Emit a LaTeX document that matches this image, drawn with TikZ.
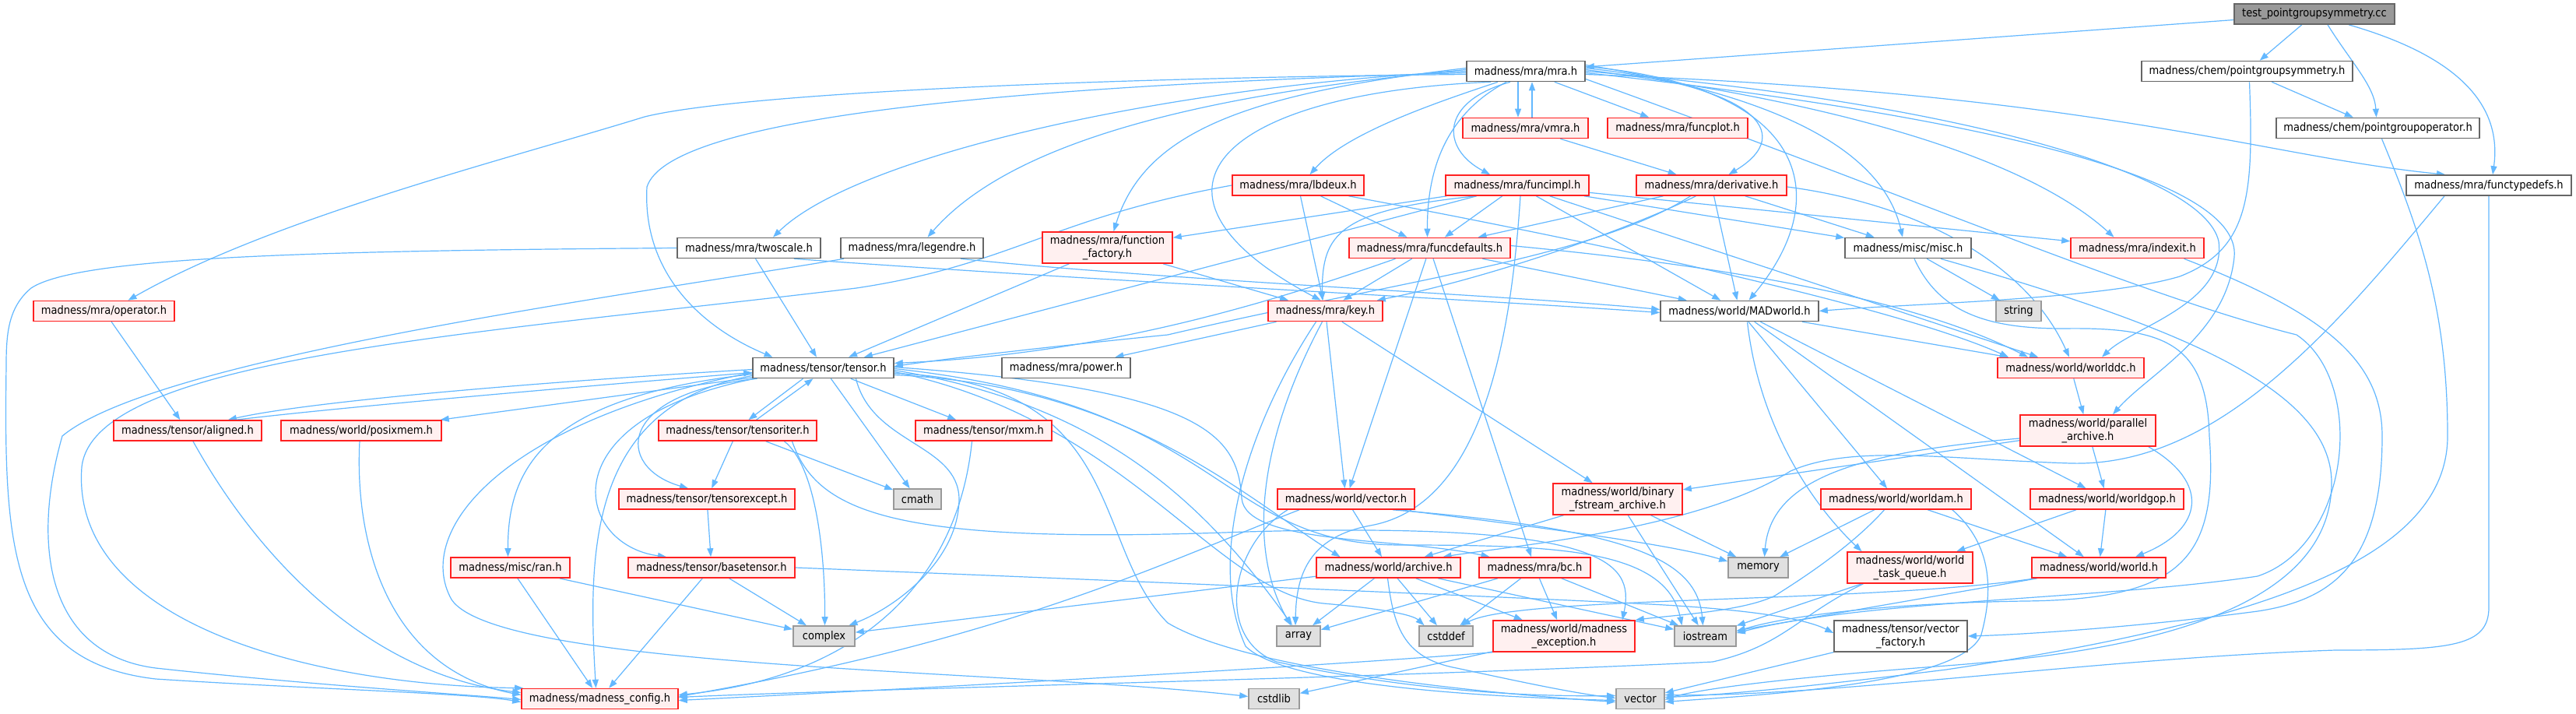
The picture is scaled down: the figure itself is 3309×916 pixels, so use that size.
\documentclass[tikz,border=0pt]{standalone}
\usepackage{fontspec}
\setmainfont{DejaVu Sans}[FakeStretch=0.9]
\usetikzlibrary{arrows.meta}
\definecolor{edgec}{HTML}{63B8FF}
\definecolor{redfill}{HTML}{FFF0F0}
\definecolor{redline}{HTML}{FF2020}
\definecolor{greyline}{HTML}{666666}
\definecolor{sysfill}{HTML}{E0E0E0}
\definecolor{sysline}{HTML}{999999}
\definecolor{rootfill}{HTML}{999999}
\pgfdeclarelayer{bg}
\pgfsetlayers{bg,main}
\tikzset{
 nd/.style={rectangle, inner sep=0pt, line width=1.6pt, font=\fontsize{14.5}{17}\selectfont, align=center, minimum height=26pt},
 rn/.style={nd, draw=redline, fill=redfill},
 wn/.style={nd, draw=greyline, fill=white},
 sn/.style={nd, draw=sysline, fill=sysfill},
 tn/.style={nd, draw=greyline, fill=rootfill},
 tall/.style={minimum height=40pt},
 edg/.style={draw=edgec, line width=1.2pt, -{Triangle[length=11pt,width=8pt]}},
}
\begin{document}
\begin{tikzpicture}[x=1pt,y=-1pt]
\useasboundingbox (0,0) rectangle (3309,916);
% nodes
\node[tn, minimum width=206] (root) at (2973,18) {test\_pointgroupsymmetry.cc};
\node[wn, minimum width=152] (mra) at (1960,91.5) {madness/mra/mra.h};
\node[wn, minimum width=271] (pgs) at (2886.5,91.5) {madness/chem/pointgroupsymmetry.h};
\node[rn, minimum width=161] (vmra) at (1959.5,164.5) {madness/mra/vmra.h};
\node[rn, minimum width=180] (funcplot) at (2155,164.5) {madness/mra/funcplot.h};
\node[wn, minimum width=261] (pgo) at (3054.5,164.5) {madness/chem/pointgroupoperator.h};
\node[rn, minimum width=169] (lbdeux) at (1667.5,238) {madness/mra/lbdeux.h};
\node[rn, minimum width=184] (funcimpl) at (1949,238) {madness/mra/funcimpl.h};
\node[rn, minimum width=193] (deriv) at (2198.5,238) {madness/mra/derivative.h};
\node[wn, minimum width=212] (ftd) at (3197,238) {madness/mra/functypedefs.h};
\node[wn, minimum width=184] (twoscale) at (962,318.5) {madness/mra/twoscale.h};
\node[wn, minimum width=183] (legendre) at (1171.5,318.5) {madness/mra/legendre.h};
\node[rn, minimum width=167, tall] (ffac) at (1422.5,318) {madness/mra/function\\\_factory.h};
\node[rn, minimum width=207] (fdef) at (1836.5,318.5) {madness/mra/funcdefaults.h};
\node[wn, minimum width=162] (misc) at (2451,318.5) {madness/misc/misc.h};
\node[rn, minimum width=171] (indexit) at (2745.5,318.5) {madness/mra/indexit.h};
\node[rn, minimum width=181] (operator) at (133.5,399.5) {madness/mra/operator.h};
\node[rn, minimum width=147] (key) at (1702.5,399.5) {madness/mra/key.h};
\node[wn, minimum width=203] (madworld) at (2234.5,399.5) {madness/world/MADworld.h};
\node[sn, minimum width=58] (string) at (2593,399.5) {string};
\node[wn, minimum width=181] (tensor) at (1057.5,472.5) {madness/tensor/tensor.h};
\node[wn, minimum width=165] (power) at (1369.5,472.5) {madness/mra/power.h};
\node[rn, minimum width=188] (worlddc) at (2660,472.5) {madness/world/worlddc.h};
\node[rn, minimum width=190] (aligned) at (241,553) {madness/tensor/aligned.h};
\node[rn, minimum width=206] (posixmem) at (464,553) {madness/world/posixmem.h};
\node[rn, minimum width=203] (tensoriter) at (947.5,553) {madness/tensor/tensoriter.h};
\node[rn, minimum width=175] (mxm) at (1263.5,553) {madness/tensor/mxm.h};
\node[rn, minimum width=174, tall] (parar) at (2682,553) {madness/world/parallel\\\_archive.h};
\node[rn, minimum width=226] (texcept) at (908,641) {madness/tensor/tensorexcept.h};
\node[sn, minimum width=61] (cmath) at (1178.5,641) {cmath};
\node[rn, minimum width=176] (wvector) at (1729,641) {madness/world/vector.h};
\node[rn, minimum width=166, tall] (binfs) at (2078,641) {madness/world/binary\\\_fstream\_archive.h};
\node[rn, minimum width=193] (worldam) at (2435.5,641) {madness/world/worldam.h};
\node[rn, minimum width=197] (worldgop) at (2706.5,641) {madness/world/worldgop.h};
\node[rn, minimum width=153] (ran) at (655.5,729) {madness/misc/ran.h};
\node[rn, minimum width=214] (basetensor) at (914,729) {madness/tensor/basetensor.h};
\node[rn, minimum width=185] (archive) at (1783.5,729) {madness/world/archive.h};
\node[rn, minimum width=143] (bc) at (1971.5,729) {madness/mra/bc.h};
\node[sn, minimum width=77] (memory) at (2258.5,729) {memory};
\node[rn, minimum width=161, tall] (taskq) at (2453.5,729) {madness/world/world\\\_task\_queue.h};
\node[rn, minimum width=172] (world) at (2696,729) {madness/world/world.h};
\node[sn, minimum width=79] (complex) at (1058.5,817) {complex};
\node[sn, minimum width=56] (array) at (1668,817) {array};
\node[sn, minimum width=69] (cstddef) at (1857.5,817) {cstddef};
\node[rn, minimum width=182, tall] (mexc) at (2009,817) {madness/world/madness\\\_exception.h};
\node[sn, minimum width=79] (iostream) at (2190.5,817) {iostream};
\node[wn, minimum width=171, tall] (vfactory) at (2441.5,817) {madness/tensor/vector\\\_factory.h};
\node[rn, minimum width=201] (config) at (770.5,897.5) {madness/madness\_config.h};
\node[sn, minimum width=65] (cstdlib) at (1636.5,897.5) {cstdlib};
\node[sn, minimum width=62] (vector) at (2107,897.5) {vector};

\begin{pgfonlayer}{bg}
\fill[white] (0,0) rectangle (3309,916);
% root
\draw[edg] (root) -- (mra);
\draw[edg] (root) -- (pgs);
\draw[edg] ([xshift=17]root.south) .. controls (3020,80) and (3050,110) .. ([xshift=-2]pgo.north);
\draw[edg] ([xshift=44]root.south) .. controls (3150,70) and (3215,130) .. ([xshift=5]ftd.north);
% pgs
\draw[edg] (pgs) -- (pgo);
\draw[edg] ([xshift=3]pgs.south) .. controls (2895,250) and (2890,320) .. (2800,355) .. controls (2700,385) and (2450,390) .. (madworld.east);
% pgo
\draw[edg] ([xshift=5]pgo.south) .. controls (3110,300) and (3144,400) .. (3144,560) .. controls (3144,720) and (2900,800) .. (2500,860) .. controls (2300,885) and (2200,893) .. ([yshift=2]vector.east);
% functypedefs
\draw[edg] (ftd.south) -- (3197,780) .. controls (3197,830) and (3150,835) .. (3000,835) .. controls (2700,845) and (2350,895) .. ([yshift=5]vector.east);
\draw[edg] ([xshift=-57]ftd.south) .. controls (3000,420) and (2850,600) .. (2660,595) .. controls (2500,590) and (2380,570) .. (2300,605) .. controls (2180,680) and (1950,700) .. ([xshift=70]archive.north);
% mra
\draw[edg] ([yshift=-4]mra.west) .. controls (1400,100) and (950,120) .. (828,150) .. controls (650,205) and (350,280) .. ([xshift=31]operator.north);
\draw[edg] ([yshift=-2]mra.west) .. controls (1300,110) and (860,150) .. (831,240) .. controls (825,350) and (900,420) .. ([xshift=-65]tensor.north);
\draw[edg] (mra.west) .. controls (1500,110) and (1100,200) .. ([xshift=31]twoscale.north);
\draw[edg] ([yshift=2]mra.west) .. controls (1550,120) and (1300,180) .. ([xshift=20]legendre.north);
\draw[edg] ([yshift=4]mra.west) .. controls (1600,120) and (1470,170) .. ([xshift=8]ffac.north);
\draw[edg] ([xshift=-45]mra.south) .. controls (1560,120) and (1440,250) .. ([xshift=-6]key.north);
\draw[edg] ([xshift=-36]mra.south) .. controls (1850,130) and (1730,170) .. ([xshift=15]lbdeux.north);
\draw[edg] ([xshift=-25]mra.south) .. controls (1870,140) and (1833,200) .. ([xshift=-3]fdef.north);
\draw[edg] ([xshift=-20]mra.south) .. controls (1850,130) and (1850,190) .. ([xshift=-35]funcimpl.north);
\draw[edg] ([xshift=-10]mra.south) -- ([xshift=-9.5]vmra.north);
\draw[edg] ([xshift=8.5]vmra.north) -- ([xshift=8]mra.south);
\draw[edg] (mra) -- (funcplot);
\draw[edg] ([yshift=4]mra.east) .. controls (2250,110) and (2310,170) .. ([xshift=22]deriv.north);
\draw[edg] ([yshift=6]mra.east) .. controls (2320,110) and (2360,250) .. ([xshift=12]madworld.north);
\draw[edg] ([yshift=8]mra.east) .. controls (2300,125) and (2420,200) .. ([xshift=-7]misc.north);
\draw[edg] ([yshift=2]mra.east) .. controls (2350,130) and (2600,200) .. ([xshift=-30]indexit.north);
\draw[edg] (mra.east) .. controls (2500,130) and (2830,220) .. (2850,310) .. controls (2860,390) and (2740,420) .. ([xshift=40]worlddc.north);
\draw[edg] ([yshift=-2]mra.east) .. controls (2550,150) and (2880,230) .. (2870,330) .. controls (2860,430) and (2760,480) .. ([xshift=32]parar.north);
\draw[edg] ([yshift=-4]mra.east) .. controls (2700,120) and (2900,200) .. ([xshift=-56]ftd.north);
\draw[edg] ([yshift=-10]mra.east) .. controls (2450,250) and (2750,380) .. (2950,430) .. controls (3040,490) and (3020,700) .. (2900,740) .. controls (2700,770) and (2400,770) .. ([yshift=4]iostream.east);
% vmra
\draw[edg] (vmra) -- (deriv);
% lbdeux
\draw[edg] (lbdeux.west) .. controls (1350,280) and (1300,340) .. (1100,370) .. controls (600,430) and (120,460) .. (105,600) .. controls (90,800) and (400,880) .. ([xshift=3]config.north west);
\draw[edg] (lbdeux) -- (key);
\draw[edg] (lbdeux) -- (fdef);
\draw[edg] ([xshift=65]lbdeux.south) .. controls (2100,320) and (2450,400) .. ([xshift=-80]worlddc.north);
% twoscale
\draw[edg] (twoscale.west) .. controls (400,322) and (100,330) .. (40,370) .. controls (10,395) and (8,430) .. (8,470) .. controls (5,700) and (10,850) .. (200,872) .. controls (400,885) and (600,890) .. ([yshift=-4]config.west);
\draw[edg] (twoscale) -- (tensor);
\draw[edg] ([xshift=-35]twoscale.south east) .. controls (1400,360) and (1900,385) .. ([yshift=-2]madworld.west);
% legendre
\draw[edg] ([xshift=5]legendre.south west) .. controls (800,380) and (200,460) .. (80,560) .. controls (40,700) and (60,840) .. (200,858) .. controls (400,880) and (600,892) .. ([yshift=-1]config.west);
\draw[edg] ([xshift=-30]legendre.south east) .. controls (1500,360) and (1950,380) .. ([yshift=2]madworld.west);
% function_factory
\draw[edg] (ffac) -- (key);
\draw[edg] (ffac) -- (tensor);
% funcimpl
\draw[edg] (funcimpl) -- (ffac);
\draw[edg] ([xshift=-53]funcimpl.south) .. controls (1720,270) and (1698,300) .. ([xshift=-4]key.north);
\draw[edg] (funcimpl) -- (tensor);
\draw[edg] (funcimpl) -- (fdef);
\draw[edg] ([xshift=4]funcimpl.south) .. controls (1940,450) and (1900,650) .. (1760,675) .. controls (1680,690) and (1665,740) .. ([xshift=-4]array.north);
\draw[edg] (funcimpl) -- (madworld);
\draw[edg] (funcimpl) -- (worlddc);
\draw[edg] (funcimpl) -- (misc);
\draw[edg] (funcimpl) -- (indexit);
% derivative
\draw[edg] (deriv) -- (fdef);
\draw[edg] ([xshift=-20]deriv.south) .. controls (2080,300) and (1900,360) .. ([xshift=-8]key.north east);
\draw[edg] ([xshift=-27]deriv.south) .. controls (2050,330) and (1800,360) .. (1500,430) .. controls (1350,445) and (1220,460) .. ([yshift=2]tensor.east);
\draw[edg] (deriv) -- (madworld);
\draw[edg] (deriv) -- (misc);
\draw[edg] ([yshift=-2]deriv.east) .. controls (2450,260) and (2600,330) .. ([xshift=-2]worlddc.north);
% funcdefaults
\draw[edg] ([xshift=-44]fdef.south) .. controls (1600,400) and (1400,455) .. ([yshift=6]tensor.east);
\draw[edg] (fdef) -- (key);
\draw[edg] (fdef) -- (wvector);
\draw[edg] (fdef) -- (bc);
\draw[edg] (fdef) -- (madworld);
\draw[edg] ([yshift=3]fdef.east) .. controls (2200,340) and (2450,380) .. ([xshift=-55]worlddc.north);
% key
\draw[edg] (key) -- (power);
\draw[edg] (key) -- (wvector);
\draw[edg] (key) -- (binfs);
\draw[edg] ([xshift=-12]key.south) .. controls (1600,550) and (1550,720) .. (1600,830) .. controls (1650,880) and (1900,895) .. ([yshift=-2]vector.west);
\draw[edg] ([xshift=-4]key.south) .. controls (1620,560) and (1600,700) .. ([xshift=-10]array.north);
% MADworld
\draw[edg] (madworld) -- (worlddc);
\draw[edg] (madworld) -- (worldam);
\draw[edg] (madworld) -- (world);
\draw[edg] (madworld) -- (worldgop);
\draw[edg] ([xshift=10]madworld.south) .. controls (2260,550) and (2330,650) .. ([xshift=-62]taskq.north);
% misc
\draw[edg] (misc) -- (string);
\draw[edg] ([xshift=8]misc.south) .. controls (2490,400) and (2550,422) .. (2650,422) .. controls (2780,420) and (2835,440) .. (2838,560) .. controls (2850,720) and (2800,770) .. (2600,772) .. controls (2400,775) and (2280,795) .. ([yshift=6]iostream.east);
\draw[edg] ([xshift=-40]misc.south east) .. controls (2800,420) and (2995,500) .. (2995,620) .. controls (2995,800) and (2700,840) .. (2500,855) .. controls (2300,870) and (2180,885) .. ([yshift=-1]vector.east);
% indexit
\draw[edg] ([xshift=60]indexit.south) .. controls (2980,400) and (3060,460) .. (3060,560) .. controls (3060,720) and (3000,770) .. (2900,785) .. controls (2750,805) and (2600,815) .. (vfactory.east);
% worlddc
\draw[edg] (worlddc) -- (parar);
% parallel_archive
\draw[edg] (parar) -- (binfs);
\draw[edg] (parar) -- (worldgop);
\draw[edg] ([xshift=-10]parar.south east) .. controls (2840,620) and (2830,680) .. ([xshift=47]world.north);
\draw[edg] ([yshift=-10]parar.west) .. controls (2400,580) and (2275,610) .. ([xshift=8]memory.north);
% worldam
\draw[edg] (worldam) -- (memory);
\draw[edg] (worldam) -- (world);
\draw[edg] ([xshift=-25]worldam.south east) .. controls (2560,700) and (2560,760) .. (2545,815) .. controls (2520,880) and (2250,893) .. ([yshift=-4]vector.east);
\draw[edg] ([xshift=-15]worldam.south) .. controls (2380,700) and (2320,740) .. (2280,765) .. controls (2240,785) and (2150,790) .. (mexc.north east);
% worldgop
\draw[edg] (worldgop) -- (taskq);
\draw[edg] (worldgop) -- (world);
% world
\draw[edg] (world) -- (iostream);
\draw[edg] ([xshift=5]world.south west) .. controls (2400,775) and (1950,765) .. ([xshift=20]cstddef.north);
% task queue
\draw[edg] (taskq) -- (iostream);
\draw[edg] ([xshift=-60]taskq.south) .. controls (2310,790) and (2290,830) .. (2200,850) .. controls (1800,870) and (1100,885) .. ([yshift=2]config.east);
% world/vector.h
\draw[edg] (wvector) -- (archive);
\draw[edg] ([xshift=-60]wvector.south) .. controls (1500,720) and (1300,820) .. ([yshift=3]config.east);
\draw[edg] ([xshift=-75]wvector.south) .. controls (1580,700) and (1560,820) .. (1640,850) .. controls (1800,885) and (1950,895) .. ([yshift=4]vector.west);
\draw[edg] ([xshift=60]wvector.south) .. controls (2100,680) and (2180,720) .. ([xshift=-3]iostream.north);
\draw[edg] ([xshift=70]wvector.south) .. controls (2000,680) and (2150,700) .. ([yshift=8]memory.west);
% binary fstream
\draw[edg] (binfs) -- (archive);
\draw[edg] (binfs) -- (memory);
\draw[edg] (binfs) -- (iostream);
% archive
\draw[edg] (archive) -- (complex);
\draw[edg] (archive) -- (array);
\draw[edg] (archive) -- (cstddef);
\draw[edg] (archive) -- (mexc);
\draw[edg] (archive) -- (iostream);
\draw[edg] ([xshift=-1]archive.south) .. controls (1790,800) and (1800,845) .. (1871,858) .. controls (1950,875) and (2020,890) .. ([yshift=1]vector.west);
% bc
\draw[edg] (bc) -- (array);
\draw[edg] (bc) -- (cstddef);
\draw[edg] (bc) -- (mexc);
\draw[edg] (bc) -- (iostream);
% madness_exception
\draw[edg] (mexc) -- (cstdlib);
\draw[edg] (mexc.south west) .. controls (1700,855) and (1300,878) .. ([yshift=-2]config.east);
% vector_factory
\draw[edg] (vfactory) -- (vector);
% basetensor etc
\draw[edg] (texcept) -- (basetensor);
\draw[edg] (basetensor) -- (complex);
\draw[edg] (basetensor) -- (config);
\draw[edg] (basetensor.east) .. controls (1300,740) and (1900,765) .. (2100,775) .. controls (2250,782) and (2320,795) .. ([yshift=4]vfactory.west);
\draw[edg] (ran) -- (complex);
\draw[edg] (ran) -- (config);
\draw[edg] ([xshift=7]aligned.south) .. controls (350,750) and (500,870) .. ([yshift=8]config.west);
\draw[edg] ([xshift=-2]posixmem.south) .. controls (455,700) and (500,860) .. ([yshift=5]config.west);
\draw[edg] (operator) -- (aligned);
\draw[edg] ([xshift=-15]mxm.south) .. controls (1230,750) and (1100,870) .. ([yshift=5]config.east);
% tensor
\draw[edg] ([yshift=-2]tensor.west) .. controls (700,490) and (400,515) .. ([xshift=52]aligned.north);
\draw[edg] ([xshift=62]aligned.north) .. controls (420,525) and (700,500) .. ([yshift=-6]tensor.west);
\draw[edg] (tensor) -- (posixmem);
\draw[edg] ([xshift=-26]tensor.south) -- ([xshift=14]tensoriter.north);
\draw[edg] ([xshift=24]tensoriter.north) -- ([xshift=-13]tensor.south);
\draw[edg] ([xshift=-85]tensor.south) .. controls (790,505) and (790,600) .. ([xshift=-24]texcept.north);
\draw[edg] ([xshift=-88]tensor.south) .. controls (700,540) and (740,700) .. ([xshift=-58]basetensor.north);
\draw[edg] ([yshift=-8]tensor.west) .. controls (700,510) and (652,600) .. ([xshift=-3]ran.north);
\draw[edg] ([yshift=-10]tensor.west) .. controls (760,520) and (754,700) .. ([xshift=-5]config.north);
\draw[edg] ([yshift=-6]tensor.west) .. controls (650,540) and (530,680) .. (580,770) .. controls (640,860) and (1300,860) .. ([yshift=3]cstdlib.west);
\draw[edg] ([xshift=42]tensor.south) .. controls (1120,570) and (1230,570) .. (1232,640) .. controls (1232,720) and (1150,780) .. ([xshift=32]complex.north);
\draw[edg] (tensor) -- (cmath);
\draw[edg] (tensor) -- (mxm);
\draw[edg] ([yshift=-3]tensor.east) .. controls (1420,520) and (1550,650) .. ([xshift=-8]array.north);
\draw[edg] ([yshift=-5]tensor.east) .. controls (1450,540) and (1560,760) .. (1700,775) .. controls (1780,782) and (1815,790) .. ([xshift=-28]cstddef.north);
\draw[edg] ([yshift=-7]tensor.east) .. controls (1450,490) and (1400,700) .. (1500,800) .. controls (1600,860) and (1900,890) .. ([yshift=-4]vector.west);
\draw[edg] ([yshift=-1]tensor.east) .. controls (1580,520) and (1560,700) .. (1800,700) .. controls (2000,700) and (2140,705) .. ([xshift=-30]iostream.north);
\draw[edg] ([yshift=1]tensor.east) .. controls (1550,500) and (1590,560) .. (1595,640) .. controls (1600,700) and (1800,690) .. ([xshift=-58]bc.north);
\draw[edg] ([yshift=-9]tensor.east) .. controls (1450,495) and (1600,640) .. ([xshift=-62]archive.north);
% tensoriter
\draw[edg] (tensoriter) -- (texcept);
\draw[edg] ([xshift=60]tensoriter.south) .. controls (1050,600) and (1060,720) .. ([xshift=1]complex.north);
\draw[edg] (tensoriter) -- (cmath);
\draw[edg] ([xshift=70]tensoriter.south) .. controls (1050,660) and (1150,700) .. (1600,683) .. controls (2060,670) and (2100,720) .. ([xshift=75]mexc.north);
\end{pgfonlayer}
\end{tikzpicture}
\end{document}
